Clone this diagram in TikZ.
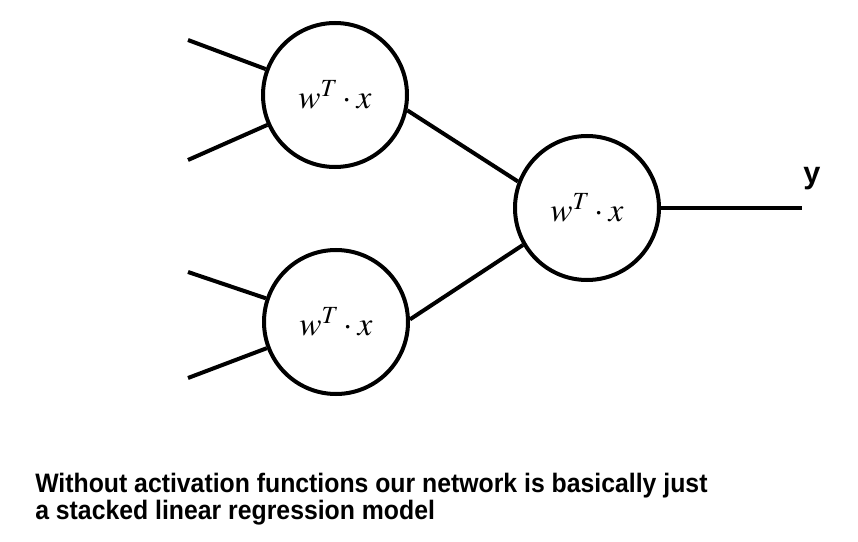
\documentclass[tikz,border=0pt]{standalone}
\usepackage{mathptmx}
\usepackage[no-math]{fontspec}
\newfontfamily\notefont[FakeStretch=0.93]{Liberation Sans}
\newfontfamily\labelfont{Liberation Sans}
\tikzset{
  neuron/.style={draw, line width=3pt, circle, inner sep=0pt, minimum size=108pt,
    font=\fontsize{25}{29}\selectfont},
  wire/.style={line width=3pt},
  note/.style={anchor=base west, inner sep=0pt, font=\notefont\bfseries\fontsize{20}{24}\selectfont}
}
\begin{document}
\begin{tikzpicture}[x=0.75pt, y=-0.75pt]
\useasboundingbox (0,0) rectangle (858,542);
% the three neurons
\node[neuron] (h1) at (335,95) {$w^T\cdot x$};
\node[neuron] (h2) at (336,322) {$w^T\cdot x$};
\node[neuron] (o) at (587,208) {$w^T\cdot x$};
% free ends of the inputs and the output
\coordinate (a1) at (188,40);
\coordinate (a2) at (188,160);
\coordinate (b1) at (188,272);
\coordinate (b2) at (188,378);
\coordinate (y) at (802,208);
\draw[wire] (a1) -- (h1);
\draw[wire] (a2) -- (h1);
\draw[wire] (b1) -- (h2);
\draw[wire] (b2) -- (h2);
\draw[wire] (h1.-12) -- (o.159);
\draw[wire] (h2.2) -- (o.210);
\draw[wire] (o) -- (y);
\node[anchor=base west, inner sep=0pt, font=\labelfont\bfseries\fontsize{23}{27}\selectfont] (ylab) at (803,184) {y};
% caption
\node[note] (line1) at (35,492) {Without activation functions our network is basically just};
\node[note] (line2) at (35,519) {a stacked linear regression model};
\end{tikzpicture}
\end{document}
